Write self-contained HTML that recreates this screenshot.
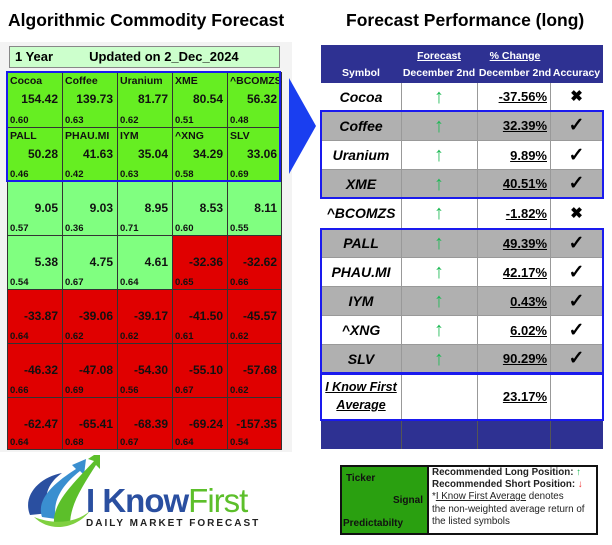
<!DOCTYPE html>
<html><head><style>
body{margin:0;width:612px;height:545px;background:#fff;position:relative;overflow:hidden;font-family:"Liberation Sans",Arial,sans-serif;}
.a{position:absolute;}
.cell{position:absolute;border:1px solid #333;box-sizing:border-box;font-weight:bold;font-size:10px;color:#111;}
.cell .t{position:absolute;left:2px;top:2px;font-size:10.5px;}
.cell .v{position:absolute;right:4px;top:19px;font-size:12px;}
.cell .p{position:absolute;left:2px;bottom:1px;font-size:9.5px;}
.rt{position:absolute;left:321px;width:282px;box-sizing:border-box;}
.rc{position:absolute;top:0;height:100%;border-left:1px solid #999;}
.sym{position:absolute;left:0;width:80px;text-align:center;font-weight:bold;font-style:italic;font-size:14px;}
.arr{position:absolute;left:80px;width:76px;text-align:center;color:#1db954;font-size:20px;}
.pc{position:absolute;left:156px;width:70px;text-align:right;font-weight:bold;font-size:13px;text-decoration:underline;}
.ac{position:absolute;left:229px;width:53px;text-align:center;font-size:19px;font-weight:bold;}
</style></head><body>
<div class="a" style="left:8px;top:10px;font-size:17.5px;font-weight:bold;">Algorithmic Commodity Forecast</div>
<div class="a" style="left:346px;top:10px;font-size:17.5px;font-weight:bold;">Forecast Performance (long)</div>
<div class="a" style="left:0;top:42px;width:292px;height:410px;background:#f3f3f3;"></div>
<div class="a" style="left:9px;top:46px;width:271px;height:22px;background:#ccffcc;border:1px solid #888;box-sizing:border-box;font-weight:bold;font-size:13px;line-height:20px;"><span style="margin-left:5px">1 Year</span><span style="margin-left:36px">Updated on 2_Dec_2024</span></div>
<div id="grid"></div>
<div class="a" style="left:6px;top:71px;width:275px;height:111px;border:2.5px solid #1a1aee;box-sizing:border-box;"></div>
<svg class="a" style="left:286px;top:72px" width="34" height="108"><polygon points="3,6 30,54 3,102" fill="#1a3ef0"/></svg>
<div class="rt" style="top:45px;height:404px;border:1px solid #999;background:#fff;"></div>
<div class="rt" style="top:45px;height:38px;background:#2e3192;color:#fff;font-weight:bold;font-size:10.5px;">
<div class="a" style="left:0;width:80px;top:22px;text-align:center">Symbol</div>
<div class="a" style="left:80px;width:76px;top:5px;text-align:center;text-decoration:underline">Forecast</div>
<div class="a" style="left:80px;width:76px;top:22px;text-align:center;white-space:nowrap">December 2nd</div>
<div class="a" style="left:156px;width:76px;top:5px;text-align:center;text-decoration:underline">% Change</div>
<div class="a" style="left:156px;width:76px;top:22px;text-align:center;white-space:nowrap">December 2nd</div>
<div class="a" style="left:229px;width:53px;top:22px;text-align:center">Accuracy</div>
</div>
<div id="rows"></div>
<div class="rt" style="top:420px;height:29px;background:#2e3192;"><div class="rc" style="left:80px;border-color:#555"></div><div class="rc" style="left:156px;border-color:#555"></div><div class="rc" style="left:229px;border-color:#555"></div></div>
<div class="a" style="left:320px;top:110px;width:284px;height:89px;border:2.5px solid #1a1aee;box-sizing:border-box;"></div>
<div class="a" style="left:320px;top:228px;width:284px;height:146px;border:2.5px solid #1a1aee;box-sizing:border-box;"></div>
<div class="a" style="left:320px;top:373px;width:284px;height:48px;border:2.5px solid #1a1aee;box-sizing:border-box;"></div>
<div class="a" style="left:340px;top:465px;width:258px;height:70px;border:2px solid #111;box-sizing:border-box;background:#fff;"></div>
<div class="a" style="left:342px;top:467px;width:85px;height:66px;background:#2aa010;border-right:2px solid #111;font-weight:bold;font-size:10px;color:#111;">
<div class="a" style="left:4px;top:6px">Ticker</div><div class="a" style="right:4px;top:28px">Signal</div><div class="a" style="left:1px;top:51px">Predictabilty</div></div>
<div class="a" style="left:432px;top:467px;font-size:9.8px;line-height:11.5px;color:#222;">
<b>Recommended Long Position:</b> <span style="color:#1db954;font-weight:bold">&#8593;</span><br><b>Recommended Short Position:</b> <span style="color:#e33;font-weight:bold">&#8595;</span><br><span style="line-height:14px">*<u>I Know First Average</u> denotes</span><br>the non-weighted average return of<br>the listed symbols</div>
<svg class="a" style="left:20px;top:455px" width="80" height="80">
<path d="M10,60 C2,40 20,22 42,18 C28,28 22,42 30,58 Z" fill="#2a4fa0"/>
<path d="M22,62 C16,44 34,28 56,14 L52,10 L66,4 L64,20 L60,16 C42,30 32,46 36,64 Z" fill="#3a8fd0"/>
<path d="M34,70 C32,48 52,30 74,6 L68,4 L80,-4 L80,14 L76,10 C62,32 50,50 50,70 Z" fill="#5cbf2a"/>
<path d="M14,62 C30,78 56,74 70,56 C56,68 34,70 14,62Z" fill="#7fd040"/>
</svg>
<div class="a" style="left:86px;top:482px;font-size:33px;letter-spacing:-1px;font-weight:bold;color:#2a4fa0;">I Know<span style="color:#5cbf2a;font-weight:normal">First</span></div>
<div class="a" style="left:86px;top:518px;font-size:10px;font-weight:bold;letter-spacing:2px;color:#222;">DAILY MARKET FORECAST</div>
<script>
var d=[["Cocoa","154.42","0.60"],["Coffee","139.73","0.63"],["Uranium","81.77","0.62"],["XME","80.54","0.51"],["^BCOMZS","56.32","0.48"],
["PALL","50.28","0.46"],["PHAU.MI","41.63","0.42"],["IYM","35.04","0.63"],["^XNG","34.29","0.58"],["SLV","33.06","0.69"],
["","9.05","0.57"],["","9.03","0.36"],["","8.95","0.71"],["","8.53","0.60"],["","8.11","0.55"],
["","5.38","0.54"],["","4.75","0.67"],["","4.61","0.64"],["","-32.36","0.65"],["","-32.62","0.66"],
["","-33.87","0.64"],["","-39.06","0.62"],["","-39.17","0.62"],["","-41.50","0.61"],["","-45.57","0.62"],
["","-46.32","0.66"],["","-47.08","0.69"],["","-54.30","0.56"],["","-55.10","0.67"],["","-57.68","0.62"],
["","-62.47","0.64"],["","-65.41","0.68"],["","-68.39","0.67"],["","-69.24","0.64"],["","-157.35","0.54"]];
var xs=[7,62,117,172,227,281],ys=[72,127,181,235,289,343,397,449],h="";
d.forEach(function(c,i){var r=Math.floor(i/5),k=i%5;var v=parseFloat(c[1]);
var bg=r<2?"#66ee22":(v>0?"#80ff80":"#e00000");
h+='<div class="cell" style="left:'+xs[k]+'px;top:'+ys[r]+'px;width:'+(xs[k+1]-xs[k]+1)+'px;height:'+(ys[r+1]-ys[r]+1)+'px;background:'+bg+'"><div class="t">'+c[0]+'</div><div class="v">'+c[1]+'</div><div class="p">'+c[2]+'</div></div>';});
document.getElementById("grid").innerHTML=h;
var R=[["Cocoa","-37.56%",0],["Coffee","32.39%",1],["Uranium","9.89%",1],["XME","40.51%",1],["^BCOMZS","-1.82%",0],["PALL","49.39%",1],["PHAU.MI","42.17%",1],["IYM","0.43%",1],["^XNG","6.02%",1],["SLV","90.29%",1]];
var ry=[83,111,141,170,198,229,258,287,316,345,373],g="";
R.forEach(function(r,i){var t=ry[i],hh=ry[i+1]-t;var bg=(i==1||i==3||i==5||i==7||i==9)?"#b0b0b0":"#fff";
var lh='line-height:'+hh+'px;';
g+='<div class="rt" style="top:'+t+'px;height:'+hh+'px;background:'+bg+';border-bottom:1px solid #999"><div class="rc" style="left:80px"></div><div class="rc" style="left:156px"></div><div class="rc" style="left:229px"></div>'+
'<div class="sym" style="top:0;'+lh+'">'+r[0]+'</div><div class="arr" style="top:0;'+lh+'">&#8593;</div><div class="pc" style="top:0;'+lh+'">'+r[1]+'</div><div class="ac" style="top:0;'+lh+(r[2]?'':'font-size:15px;')+'">'+(r[2]?"&#10003;":"&#10006;")+'</div></div>';});
g+='<div class="rt" style="top:373px;height:47px;background:#fff"><div class="rc" style="left:80px"></div><div class="rc" style="left:156px"></div><div class="rc" style="left:229px"></div>'+
'<div class="a" style="left:0;width:80px;top:5px;text-align:center;font-style:italic;font-weight:bold;font-size:12.5px;line-height:18px;text-decoration:underline;">I Know First<br>Average</div><div class="pc" style="top:0;line-height:47px">23.17%</div></div>';
document.getElementById("rows").innerHTML=g;
</script>
</body></html>
